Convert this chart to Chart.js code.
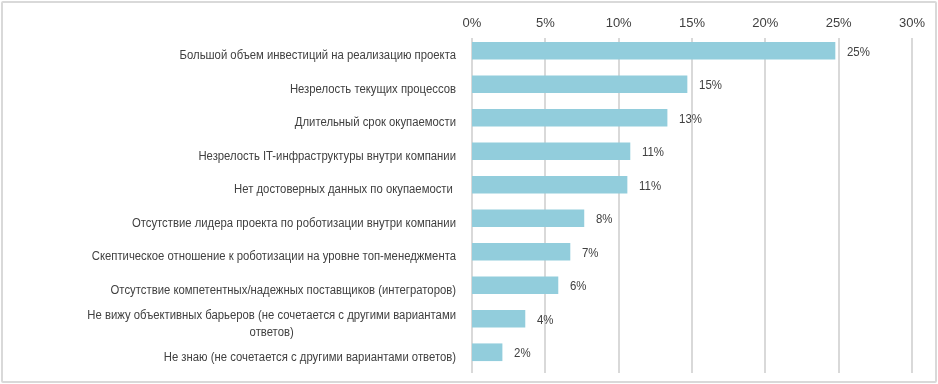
<!DOCTYPE html>
<html><head><meta charset="utf-8">
<script src="https://cdn.jsdelivr.net/npm/chart.js@4"></script>
<style>
html,body{margin:0;padding:0;background:#fff;}
#wrap{position:relative;width:938px;height:384px;}
#frame{position:absolute;left:1px;top:1px;width:936px;height:382px;box-sizing:border-box;border:2px solid #d9d9d9;border-radius:2px;pointer-events:none;}
canvas{position:absolute;left:0;top:0;}
</style></head>
<body>
<div id="wrap"><canvas id="c" width="938" height="384"></canvas><div id="frame"></div></div>
<script>
const categories = [
  "Большой объем инвестиций на реализацию проекта",
  "Незрелость текущих процессов",
  "Длительный срок окупаемости",
  "Незрелость IT-инфраструктуры внутри компании",
  "Нет достоверных данных по окупаемости ",
  "Отсутствие лидера проекта по роботизации внутри компании",
  "Скептическое отношение к роботизации на уровне топ-менеджмента",
  "Отсутствие компетентных/надежных поставщиков (интеграторов)",
  ["Не вижу объективных барьеров (не сочетается с другими вариантами", "ответов)"],
  "Не знаю (не сочетается с другими вариантами ответов)"
];
const values = [24.75, 14.66, 13.3, 10.77, 10.57, 7.63, 6.68, 5.86, 3.61, 2.05];
const valueLabels = ["25%", "15%", "13%", "11%", "11%", "8%", "7%", "6%", "4%", "2%"];
const tickValues = [0, 5, 10, 15, 20, 25, 30];

const FONT = "'Liberation Sans', Arial, sans-serif";
const TXT = '#404040';

const gridPlugin = {
  id: 'shiftedGrid',
  beforeDatasetsDraw(chart) {
    const {ctx, chartArea, scales} = chart;
    const x = scales.x;
    ctx.save();
    ctx.strokeStyle = '#d9d9d9';
    ctx.lineWidth = 2;
    tickValues.forEach(v => {
      const px = Math.round(x.getPixelForValue(v));
      ctx.beginPath();
      ctx.moveTo(px, chartArea.top + 4);
      ctx.lineTo(px, chartArea.bottom + 4);
      ctx.stroke();
    });
    ctx.restore();
  }
};

const textPlugin = {
  id: 'texts',
  afterDatasetsDraw(chart) {
    const {ctx, chartArea, scales} = chart;
    const meta = chart.getDatasetMeta(0);
    ctx.save();
    ctx.fillStyle = TXT;
    ctx.textBaseline = 'middle';
    // value labels
    ctx.font = '13px ' + FONT;
    ctx.textAlign = 'left';
    meta.data.forEach((bar, i) => {
      ctx.save();
      ctx.translate(bar.x + 12, bar.y + 1.5);
      ctx.scale(0.88, 1);
      ctx.fillText(valueLabels[i], 0, 0);
      ctx.restore();
    });
    // category labels (condensed)
    const sx = 0.905;
    const right = chartArea.left - 16;
    ctx.font = '12.5px ' + FONT;
    categories.forEach((c, i) => {
      const y = scales.y.getPixelForTick(i) + 5;
      const lines = Array.isArray(c) ? c : [c];
      const lh = 17;
      const y0 = y - (lines.length - 1) * lh / 2;
      const w0 = ctx.measureText(lines[0]).width * sx;
      lines.forEach((ln, k) => {
        ctx.save();
        if (k === 0) {
          ctx.translate(right, y0);
          ctx.scale(sx, 1);
          ctx.textAlign = 'right';
        } else {
          ctx.translate(right - w0 / 2, y0 + k * lh);
          ctx.scale(sx, 1);
          ctx.textAlign = 'center';
        }
        ctx.fillText(ln, 0, 0);
        ctx.restore();
      });
    });
    ctx.restore();
  }
};

new Chart(document.getElementById('c'), {
  type: 'bar',
  data: {
    labels: categories,
    datasets: [{
      data: values,
      backgroundColor: '#92cddc',
      borderWidth: 0,
      barThickness: 17
    }]
  },
  options: {
    indexAxis: 'y',
    responsive: false,
    animation: false,
    devicePixelRatio: 1,
    layout: {padding: {left: 0, right: 26, top: 0, bottom: 15}},
    plugins: {legend: {display: false}, tooltip: {enabled: false}},
    scales: {
      x: {
        position: 'top',
        min: 0, max: 30,
        afterBuildTicks(s) { s.ticks = tickValues.map(v => ({value: v})); },
        afterFit(s) { s.height = 34; },
        grid: {display: false, drawTicks: false},
        border: {display: false},
        ticks: {
          padding: 3,
          color: TXT,
          font: {family: FONT, size: 13},
          callback: v => v + '%'
        }
      },
      y: {
        afterFit(s) { s.width = 472; },
        grid: {display: false, drawTicks: false},
        border: {display: false},
        ticks: {display: false}
      }
    }
  },
  plugins: [gridPlugin, textPlugin]
});
</script>
</body></html>
